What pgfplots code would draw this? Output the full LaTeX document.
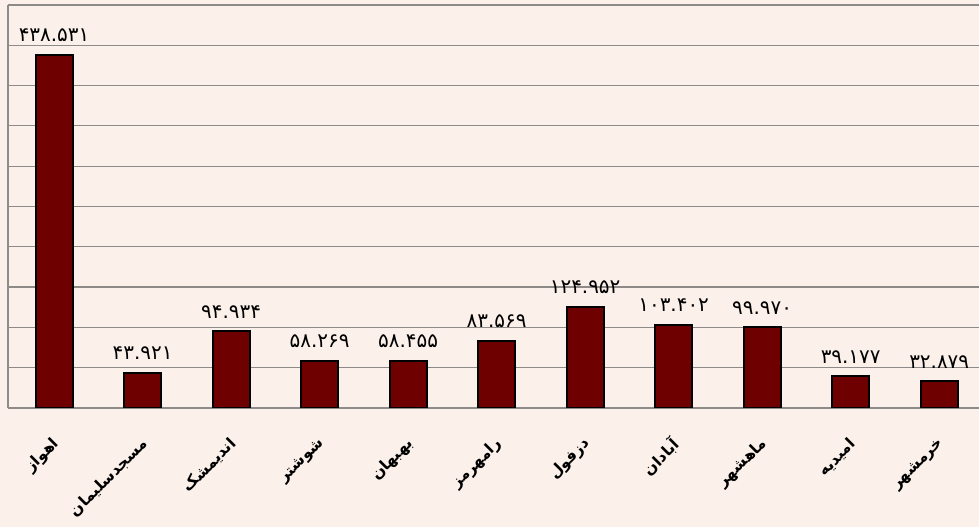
\documentclass[border=0pt]{standalone}
\usepackage{fontspec}
\usepackage{pgfplots}
\pgfplotsset{compat=1.18}
\TeXXeTstate=1
\newfontfamily\fa[Script=Arabic]{DejaVu Sans}
\definecolor{bg}{HTML}{FBF0EA}
\definecolor{barc}{HTML}{6E0000}
\definecolor{gridc}{HTML}{8E8A88}
\newcommand{\fl}[1]{\beginR #1\endR}

\begin{document}
\begin{tikzpicture}[x=1bp,y=1bp]
\fill[bg] (-8,-119) rectangle (971,408);
\begin{axis}[
    at={(0,0)}, anchor=south west,
    scale only axis,
    width=971bp, height=403bp,
    ymin=0, ymax=500,
    ytick={0,50,...,500}, yticklabels={},
    ymajorgrids,
    grid style={gridc, line width=1.2bp},
    major tick length=0pt,
    axis x line*=bottom, axis y line*=left,
    axis line style={gridc, line width=1.2bp, -},
    xmin=-0.52, xmax=10.45,
    xtick={0,...,10},
    xticklabels={\fl{اهواز}, \fl{مسجدسلیمان}, \fl{اندیمشک}, \fl{شوشتر}, \fl{بهبهان}, \fl{رامهرمز}, \fl{دزفول}, \fl{آبادان}, \fl{ماهشهر}, \fl{امیدیه}, \fl{خرمشهر}},
    xticklabel style={font=\fa\bfseries\fontsize{15.5}{15.5}\selectfont, xshift=5bp, rotate=45, anchor=east},
    xticklabel shift=31bp,
    ybar, bar width=37bp,
    nodes near coords,
    point meta=explicit symbolic,
    every node near coord/.append style={font=\fa\fontsize{20}{20}\selectfont, black, yshift=9bp},
]
\addplot[fill=barc, draw=black, line width=2bp] coordinates {
    (0,438.531) [۴۳۸.۵۳۱]
    (1,43.921)  [۴۳.۹۲۱]
    (2,94.934)  [۹۴.۹۳۴]
    (3,58.269)  [۵۸.۲۶۹]
    (4,58.455)  [۵۸.۴۵۵]
    (5,83.569)  [۸۳.۵۶۹]
    (6,124.952) [۱۲۴.۹۵۲]
    (7,103.402) [۱۰۳.۴۰۲]
    (8,99.970)  [۹۹.۹۷۰]
    (9,39.177)  [۳۹.۱۷۷]
    (10,32.879) [۳۲.۸۷۹]
};
\end{axis}
\pgfresetboundingbox
\path (-8,-119) rectangle (971,408);
\end{tikzpicture}
\end{document}
